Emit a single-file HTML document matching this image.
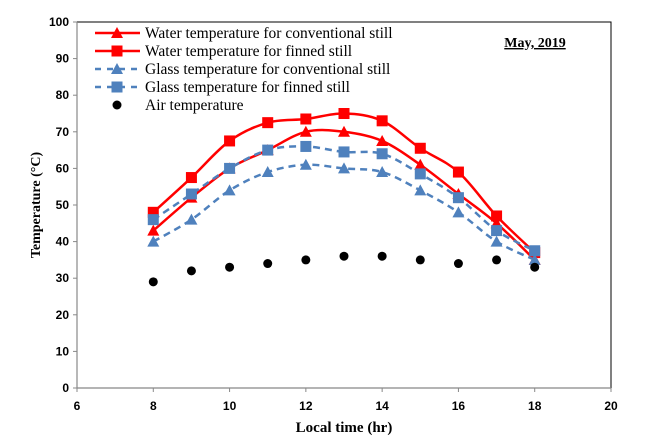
<!DOCTYPE html>
<html><head><meta charset="utf-8"><style>
body{margin:0;background:#fff}
svg{display:block;font-family:"Liberation Serif",serif}
</style></head><body>
<svg id="c" width="650" height="439"></svg>
<script>
const hours=[8,9,10,11,12,13,14,15,16,17,18];
const waterConv=[43,52,60,65,70,70,67.5,61,53,45,35];
const waterFin=[48,57.5,67.5,72.5,73.5,75,73,65.5,59,47,37];
const glassConv=[40,46,54,59,61,60,59,54,48,40,35];
const glassFin=[46,53,60,65,66,64.5,64,58.5,52,43,37.5];
const air=[29,32,33,34,35,36,36,35,34,35,33];
const xTicks=[6,8,10,12,14,16,18,20];
const yTicks=[0,10,20,30,40,50,60,70,80,90,100];
const NS="http://www.w3.org/2000/svg";
const svg=document.getElementById('c');
const X0=77,X1=611,Y0=388,Y1=22;
const sx=v=>X0+(v-6)/(20-6)*(X1-X0);
const sy=v=>Y0-v/100*(Y0-Y1);
function mk(t,a,p){const e=document.createElementNS(NS,t);for(const k in a)e.setAttribute(k,a[k]);(p||svg).appendChild(e);return e;}
let fr=mk('rect',{x:X0,y:Y1,width:X1-X0,height:Y0-Y1,fill:'none',stroke:'#000','stroke-width':1});


let ax=mk('path',{d:`M${X0},${Y1}V${Y0}H${X1}`,fill:'none',stroke:'#888','stroke-width':1.2});


yTicks.forEach(v=>{
 mk('line',{x1:X0-4,x2:X0,y1:sy(v),y2:sy(v),stroke:'#888'});
 const t=mk('text',{x:X0-8,y:sy(v)+4,'text-anchor':'end','font-size':12,'font-weight':600,'font-family':'Liberation Sans,sans-serif',fill:'#000'});
 t.textContent=v;
 
 
});
xTicks.forEach(v=>{
 mk('line',{x1:sx(v),x2:sx(v),y1:Y0,y2:Y0+4,stroke:'#888'});
 const t=mk('text',{x:sx(v),y:Y0+22,'text-anchor':'middle','font-size':12,'font-weight':600,'font-family':'Liberation Sans,sans-serif',fill:'#000'});
 t.textContent=v;
 
 
});
let xt=mk('text',{x:344,y:432,'text-anchor':'middle','font-size':15,'font-weight':'bold'});
xt.textContent='Local time (hr)';


let yt=mk('text',{x:0,y:0,'text-anchor':'middle','font-size':14,'font-weight':'bold',transform:'translate(40,205) rotate(-90)'});
yt.textContent='Temperature (°C)';


let ti=mk('text',{x:535,y:47,'text-anchor':'middle','font-size':14,'font-weight':'bold','text-decoration':'underline'});
ti.textContent='May, 2019';


function smooth(xs,ys){
 const p=xs.map((x,i)=>[sx(x),sy(ys[i])]);let d=`M${p[0][0]},${p[0][1]}`;
 for(let i=0;i<p.length-1;i++){const a=p[i-1]||p[i],b=p[i],c=p[i+1],e=p[i+2]||c;
  d+=`C${b[0]+(c[0]-a[0])/6},${b[1]+(c[1]-a[1])/6} ${c[0]-(e[0]-b[0])/6},${c[1]-(e[1]-b[1])/6} ${c[0]},${c[1]}`;}
 return d;}
function marker(type,x,y,col,g){
 if(type==='tri')return mk('path',{d:`M${x},${y-6}L${x+6},${y+5}L${x-6},${y+5}Z`,fill:col},g);
 if(type==='sq')return mk('rect',{x:x-5.5,y:y-5.5,width:11,height:11,fill:col},g);
 return mk('circle',{cx:x,cy:y,r:4.5,fill:col},g);}
const series=[
 {name:'Water temperature for conventional still',vals:waterConv,col:'#ff0000',dash:null,m:'tri',id:'water-conventional'},
 {name:'Water temperature for finned still',vals:waterFin,col:'#ff0000',dash:null,m:'sq',id:'water-finned'},
 {name:'Glass temperature for conventional still',vals:glassConv,col:'#4f81bd',dash:'7,5',m:'tri',id:'glass-conventional'},
 {name:'Glass temperature for finned still',vals:glassFin,col:'#4f81bd',dash:'7,5',m:'sq',id:'glass-finned'},
 {name:'Air temperature',vals:air,col:'#000',dash:'none',m:'dot',id:'air'}];
series.forEach((s,k)=>{
 const g=mk('g',{});
 
 
 if(s.dash!=='none'){const a={d:smooth(hours,s.vals),fill:'none',stroke:s.col,'stroke-width':2.5};if(s.dash)a['stroke-dasharray']=s.dash;
  const l=mk('path',a,g);
  
  }
 hours.forEach((h,i)=>{const m=marker(s.m,sx(h),sy(s.vals[i]),s.col,g);
  
  });
 const lg=mk('g',{});
 
 
 const ly=33+k*18;
 if(s.dash!=='none'){const a={x1:95,x2:140,y1:ly,y2:ly,stroke:s.col,'stroke-width':2.5};if(s.dash)a['stroke-dasharray']='6,6';mk('line',a,lg);}
 marker(s.m,117,ly,s.col,lg);
 const t=mk('text',{x:145,y:ly+5,'font-size':15.5,fill:'#000'},lg);t.textContent=s.name;
});
</script>
</body></html>
